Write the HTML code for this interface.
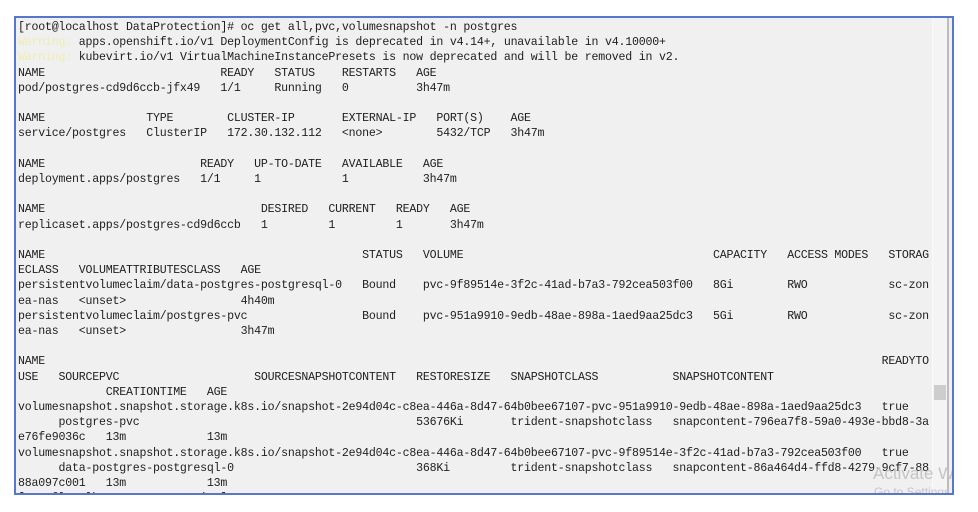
<!DOCTYPE html>
<html><head><meta charset="utf-8">
<style>
html,body{margin:0;padding:0;background:#fff;width:978px;height:512px;overflow:hidden}
#f{position:absolute;left:14px;top:16px;width:936px;height:475px;border:2px solid #5677cc;background:#f0f0f0;overflow:hidden}
pre{position:absolute;left:2px;top:2px;margin:0;font-family:"Liberation Mono",monospace;font-size:11.6px;letter-spacing:-0.21px;line-height:15.2px;color:#1e1e1e;white-space:pre}
.w{color:#eeeeb0}
#sb{position:absolute;left:916px;top:0;width:14px;height:475px;background:#f4f4f4;border-left:1px solid #fafafa}
#sl{position:absolute;left:931px;top:0;width:2px;height:475px;background:#bdbdbd}
#th{position:absolute;left:918px;top:367px;width:12px;height:15px;background:#cdcdcd}
.wm{position:absolute;font-family:"Liberation Sans",sans-serif;color:#c4c4c4;white-space:nowrap}
</style></head><body>
<div id="f">
<pre>[root@localhost DataProtection]# oc get all,pvc,volumesnapshot -n postgres
<span class="w">Warning:</span> apps.openshift.io/v1 DeploymentConfig is deprecated in v4.14+, unavailable in v4.10000+
<span class="w">Warning:</span> kubevirt.io/v1 VirtualMachineInstancePresets is now deprecated and will be removed in v2.
NAME                          READY   STATUS    RESTARTS   AGE
pod/postgres-cd9d6ccb-jfx49   1/1     Running   0          3h47m

NAME               TYPE        CLUSTER-IP       EXTERNAL-IP   PORT(S)    AGE
service/postgres   ClusterIP   172.30.132.112   &lt;none&gt;        5432/TCP   3h47m

NAME                       READY   UP-TO-DATE   AVAILABLE   AGE
deployment.apps/postgres   1/1     1            1           3h47m

NAME                                DESIRED   CURRENT   READY   AGE
replicaset.apps/postgres-cd9d6ccb   1         1         1       3h47m

NAME                                               STATUS   VOLUME                                     CAPACITY   ACCESS MODES   STORAG
ECLASS   VOLUMEATTRIBUTESCLASS   AGE
persistentvolumeclaim/data-postgres-postgresql-0   Bound    pvc-9f89514e-3f2c-41ad-b7a3-792cea503f00   8Gi        RWO            sc-zon
ea-nas   &lt;unset&gt;                 4h40m
persistentvolumeclaim/postgres-pvc                 Bound    pvc-951a9910-9edb-48ae-898a-1aed9aa25dc3   5Gi        RWO            sc-zon
ea-nas   &lt;unset&gt;                 3h47m

NAME                                                                                                                            READYTO
USE   SOURCEPVC                    SOURCESNAPSHOTCONTENT   RESTORESIZE   SNAPSHOTCLASS           SNAPSHOTCONTENT
             CREATIONTIME   AGE
volumesnapshot.snapshot.storage.k8s.io/snapshot-2e94d04c-c8ea-446a-8d47-64b0bee67107-pvc-951a9910-9edb-48ae-898a-1aed9aa25dc3   true
      postgres-pvc                                         53676Ki       trident-snapshotclass   snapcontent-796ea7f8-59a0-493e-bbd8-3a
e76fe9036c   13m            13m
volumesnapshot.snapshot.storage.k8s.io/snapshot-2e94d04c-c8ea-446a-8d47-64b0bee67107-pvc-9f89514e-3f2c-41ad-b7a3-792cea503f00   true
      data-postgres-postgresql-0                           368Ki         trident-snapshotclass   snapcontent-86a464d4-ffd8-4279-9cf7-88
88a097c001   13m            13m
[root@localhost DataProtection]#</pre>
<div id="sb"></div><div id="sl"></div><div id="th"></div>
<div class="wm" style="left:857px;top:446px;font-size:17px">Activate W</div>
<div class="wm" style="left:858px;top:467px;font-size:12px">Go to Settings</div>
</div>
</body></html>
